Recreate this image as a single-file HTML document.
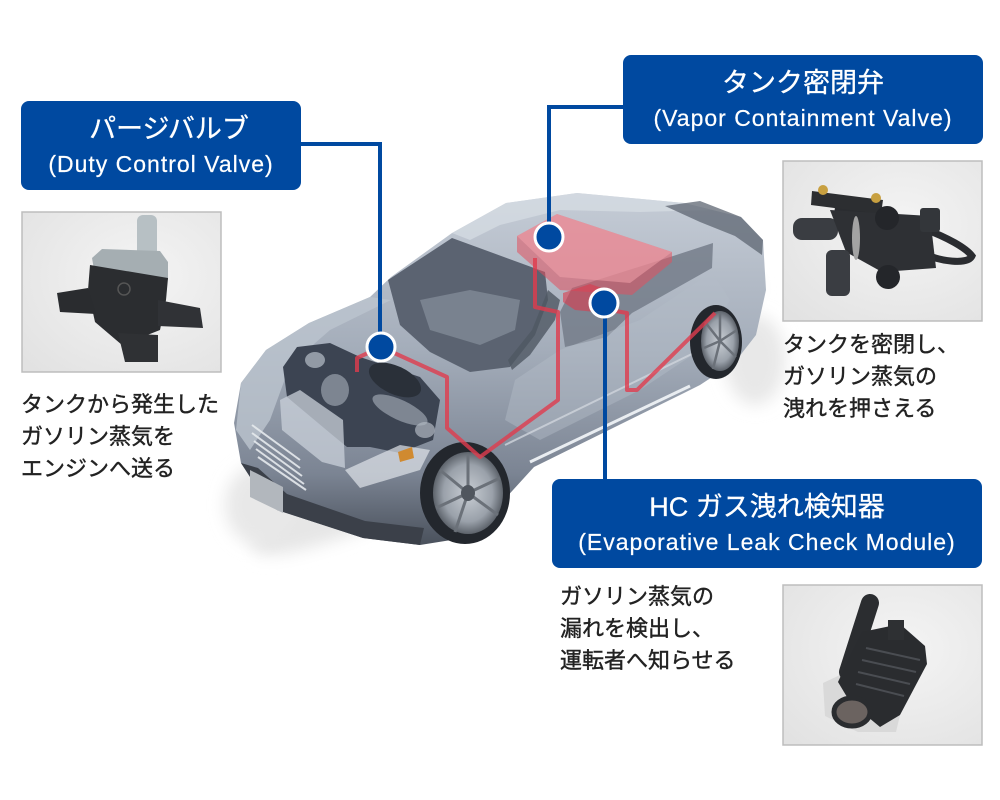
<!DOCTYPE html>
<html><head><meta charset="utf-8">
<style>
html,body{margin:0;padding:0;background:#fff;}
#wrap{position:relative;width:1000px;height:800px;overflow:hidden;background:#fff;font-family:"Liberation Sans","Noto Sans CJK JP",sans-serif;}
.box{position:absolute;background:#0049a0;border-radius:8px;color:#fff;}
.t1{position:absolute;left:0;right:0;top:10px;line-height:36px;font-size:27px;text-align:center;white-space:nowrap;-webkit-text-stroke:0.3px #fff;}
.t2{position:absolute;left:0;right:0;top:48px;line-height:30px;font-size:23px;letter-spacing:1px;text-align:center;white-space:nowrap;-webkit-text-stroke:0.2px #fff;}
.txt{position:absolute;font-size:22px;line-height:32px;color:#222;white-space:nowrap;-webkit-text-stroke:0.4px #222;}
</style></head>
<body><div id="wrap">
<svg width="1000" height="800" viewBox="0 0 1000 800" style="position:absolute;left:0;top:0">
<defs>
 <filter id="blur" x="-50%" y="-50%" width="200%" height="200%"><feGaussianBlur stdDeviation="8"/></filter>
 <linearGradient id="body" x1="0" y1="190" x2="0" y2="545" gradientUnits="userSpaceOnUse">
  <stop offset="0" stop-color="#c6cdd7"/>
  <stop offset="0.45" stop-color="#a4adba"/>
  <stop offset="0.8" stop-color="#7b8493"/>
  <stop offset="1" stop-color="#4a515c"/>
 </linearGradient>
 <radialGradient id="photo" cx="0.6" cy="0.4" r="0.8">
  <stop offset="0" stop-color="#f4f4f4"/>
  <stop offset="1" stop-color="#e2e2e2"/>
 </radialGradient>
 <radialGradient id="rim" cx="0.5" cy="0.5" r="0.5">
  <stop offset="0" stop-color="#c9ced4"/>
  <stop offset="0.7" stop-color="#9aa1aa"/>
  <stop offset="1" stop-color="#5d636b"/>
 </radialGradient>
</defs>

<!-- shadow -->
<ellipse cx="505" cy="415" rx="285" ry="45" transform="rotate(-28 505 415)" fill="#e6e6e6" filter="url(#blur)"/>
<ellipse cx="260" cy="505" rx="35" ry="40" fill="#e8e8e8" filter="url(#blur)"/>
<ellipse cx="755" cy="360" rx="30" ry="45" fill="#e8e8e8" filter="url(#blur)"/>

<!-- car body -->
<polygon fill="url(#body)" points="241,463 234,423 241,383 266,350 309,323 370,297 391,277 452,233 506,203 577,193 684,203 741,217 763,240 766,290 756,335 735,362 700,385 684,393 534,467 470,537 420,545 363,538 277,510 252,480"/>
<!-- roof highlight -->
<polygon fill="#d6dce3" opacity="0.75" points="452,233 506,203 577,193 684,203 712,210 640,212 560,210 500,225 470,240"/>
<!-- rear deck dark -->
<polygon fill="#5d6572" opacity="0.75" points="665,206 700,201 741,217 763,240 762,255 735,236 700,222"/>
<!-- cabin interior -->
<polygon fill="#5b6371" points="388,280 452,238 545,272 548,300 535,335 510,367 470,372 430,352 400,325"/>
<polygon fill="#8e97a4" opacity="0.6" points="420,300 470,290 520,300 515,330 480,345 430,330"/>
<!-- front side window -->
<polygon fill="#4f5763" opacity="0.8" points="548,290 560,300 555,320 530,355 512,370 508,360 532,330"/>
<!-- rear side window -->
<polygon fill="#747d8a" opacity="0.85" points="560,312 572,288 667,258 713,243 712,268 632,313 607,337 565,347"/>
<!-- door side lighter -->
<polygon fill="#b4bcc7" opacity="0.45" points="515,380 560,350 640,320 712,272 730,300 700,350 640,390 540,440 505,420"/>
<!-- hood / fender silver -->
<polygon fill="#bcc4ce" opacity="0.8" points="241,383 266,350 309,323 370,297 391,300 330,330 290,365 270,420 250,450 236,430"/>
<!-- engine bay -->
<polygon fill="#3c4452" points="297,347 330,343 360,357 420,377 440,400 433,440 400,453 370,447 347,447 330,433 287,397 283,367"/>
<ellipse cx="395" cy="380" rx="28" ry="14" fill="#2a3039" transform="rotate(25 395 380)"/>
<ellipse cx="400" cy="410" rx="30" ry="10" fill="#9aa3ae" opacity="0.7" transform="rotate(25 400 410)"/>
<ellipse cx="335" cy="390" rx="14" ry="16" fill="#8d96a1" opacity="0.8"/>
<ellipse cx="315" cy="360" rx="10" ry="8" fill="#a8b0ba" opacity="0.8"/>
<ellipse cx="425" cy="430" rx="10" ry="8" fill="#b0b8c2" opacity="0.7"/>
<!-- radiator panel -->
<polygon fill="#c9d0d9" opacity="0.75" points="280,400 300,390 343,420 345,468 322,462 282,430"/>
<!-- grille -->
<g stroke="#e6eaee" stroke-width="2" fill="none" opacity="0.9">
 <path d="M252,425 L300,460"/><path d="M252,433 L300,468"/><path d="M254,441 L302,476"/><path d="M256,449 L304,484"/><path d="M258,457 L306,490"/>
</g>
<!-- headlight -->
<polygon fill="#dfe4ea" opacity="0.7" points="345,470 400,445 430,450 420,470 360,488"/>
<polygon fill="#d08a30" points="398,452 412,447 414,458 400,462"/>
<!-- lower bumper dark -->
<polygon fill="#3b4049" points="241,463 252,480 277,510 363,538 420,545 424,528 365,521 287,494 258,468"/>
<polygon fill="#b2b7bd" points="250,470 283,487 283,513 250,497"/>
<!-- rocker highlight -->
<path d="M530,462 L690,386" stroke="#e9edf1" stroke-width="3" fill="none"/>
<path d="M505,445 L700,350" stroke="#cfd5dc" stroke-width="2" fill="none" opacity="0.8"/>
<!-- front wheel -->
<ellipse cx="465" cy="493" rx="45" ry="51" fill="#23272d"/>
<ellipse cx="468" cy="493" rx="35" ry="41" fill="url(#rim)"/>
<g stroke="#6b7179" stroke-width="3">
 <path d="M468,493 L468,455"/><path d="M468,493 L500,478"/><path d="M468,493 L498,515"/><path d="M468,493 L455,532"/><path d="M468,493 L436,508"/><path d="M468,493 L440,470"/>
</g>
<ellipse cx="468" cy="493" rx="7" ry="8" fill="#50565e"/>
<!-- rear wheel -->
<ellipse cx="716" cy="342" rx="26" ry="37" fill="#23272d"/>
<ellipse cx="720" cy="341" rx="19" ry="30" fill="url(#rim)"/>
<g stroke="#6b7179" stroke-width="2.5">
 <path d="M720,341 L720,313"/><path d="M720,341 L737,330"/><path d="M720,341 L736,357"/><path d="M720,341 L713,369"/><path d="M720,341 L704,348"/><path d="M720,341 L705,322"/>
</g>

<!-- red tank -->
<polygon fill="#e2505f" opacity="0.55" points="517,236 557,214 672,252 672,262 632,295 560,290 517,252"/>
<polygon fill="#f0a0aa" opacity="0.55" points="517,236 557,214 672,252 630,283 560,277"/>
<polygon fill="#dc3a4c" opacity="0.6" points="563,293 590,284 614,292 606,313 575,310 563,302"/>
<!-- red pipes -->
<g stroke="#e03c4e" stroke-width="4" fill="none" opacity="0.8" stroke-linejoin="round">
 <path d="M357,372 L357,358 L381,347 L447,377 L447,428 L480,457 L558,400 L558,312 L535,307 L535,258"/>
 <path d="M610,310 L627,313 L627,390 L637,390 L715,313"/>
</g>

<!-- photos -->
<rect x="22" y="212" width="199" height="160" fill="url(#photo)" stroke="#bdbdbd" stroke-width="1.5"/>
<rect x="783" y="161" width="199" height="160" fill="url(#photo)" stroke="#bdbdbd" stroke-width="1.5"/>
<rect x="783" y="585" width="199" height="160" fill="url(#photo)" stroke="#bdbdbd" stroke-width="1.5"/>

<!-- product 1 -->
<rect x="137" y="215" width="20" height="42" rx="6" fill="#b7c0c4"/>
<polygon fill="#a5aeb2" points="92,258 102,249 160,251 168,262 168,280 95,275"/>
<polygon fill="#2b2d30" points="90,265 168,278 166,300 160,330 122,345 95,322 88,290"/>
<polygon fill="#303236" points="158,300 200,308 203,328 158,326"/>
<polygon fill="#2a2c2f" points="57,293 88,288 96,314 60,312"/>
<polygon fill="#2f3134" points="118,333 158,335 158,362 125,362"/>
<circle cx="124" cy="289" r="6" fill="none" stroke="#555" stroke-width="1.5"/>

<!-- product 2 -->
<path d="M835,207 C900,215 960,240 972,256 C968,265 940,262 920,252" stroke="#2a2c30" stroke-width="7" fill="none"/>
<polygon fill="#2c2e31" points="812,191 883,200 881,214 811,205"/>
<circle cx="823" cy="190" r="5" fill="#c8a040"/>
<circle cx="876" cy="198" r="5" fill="#c8a040"/>
<rect x="793" y="218" width="45" height="22" rx="9" fill="#3a3d42"/>
<polygon fill="#2e3034" points="830,210 930,216 936,268 882,272 846,252"/>
<rect x="826" y="250" width="24" height="46" rx="6" fill="#3a3d42"/>
<ellipse cx="856" cy="238" rx="4" ry="22" fill="#a3a3a3"/>
<circle cx="887" cy="218" r="12" fill="#24262a"/>
<circle cx="888" cy="277" r="12" fill="#24262a"/>
<rect x="920" y="208" width="20" height="24" rx="3" fill="#33363a"/>

<!-- product 3 -->
<polygon fill="#d9d9d9" points="823,683 840,675 880,690 900,715 896,732 858,732 825,716"/>
<path d="M870,603 L848,672" stroke="#2b2d30" stroke-width="18" stroke-linecap="round"/>
<polygon fill="#2a2c2f" points="862,632 900,624 925,646 927,664 900,715 880,727 850,702 838,682 852,652"/>
<rect x="888" y="620" width="16" height="20" fill="#2e3033"/>
<g stroke="#4a4d52" stroke-width="2">
 <path d="M866,648 L920,660"/><path d="M862,660 L916,672"/><path d="M858,672 L910,684"/><path d="M856,684 L904,696"/>
</g>
<ellipse cx="852" cy="712" rx="18" ry="14" fill="#6b6360" stroke="#2a2c2f" stroke-width="5"/>

<!-- blue connectors -->
<g stroke="#0049a0" stroke-width="4" fill="none">
 <path d="M300,144 H380 V347"/>
 <path d="M624,107 H549 V237"/>
 <path d="M605,303 V480"/>
</g>
<g fill="#0049a0" stroke="#fff" stroke-width="3">
 <circle cx="381" cy="347" r="14"/>
 <circle cx="549" cy="237" r="14"/>
 <circle cx="604" cy="303" r="14"/>
</g>
</svg>

<div class="box" style="left:21px;top:101px;width:280px;height:89px;">
 <div class="t1" style="padding-left:16px;">パージバルブ</div>
 <div class="t2">(Duty Control Valve)</div>
</div>
<div class="box" style="left:623px;top:55px;width:360px;height:89px;">
 <div class="t1">タンク密閉弁</div>
 <div class="t2">(Vapor Containment Valve)</div>
</div>
<div class="box" style="left:552px;top:479px;width:430px;height:89px;">
 <div class="t1">HC ガス洩れ検知器</div>
 <div class="t2">(Evaporative Leak Check Module)</div>
</div>

<div class="txt" style="left:21px;top:389px;">タンクから発生した<br>ガソリン蒸気を<br>エンジンへ送る</div>
<div class="txt" style="left:783px;top:329px;">タンクを密閉し、<br>ガソリン蒸気の<br>洩れを押さえる</div>
<div class="txt" style="left:560px;top:581px;">ガソリン蒸気の<br>漏れを検出し、<br>運転者へ知らせる</div>
</div></body></html>
